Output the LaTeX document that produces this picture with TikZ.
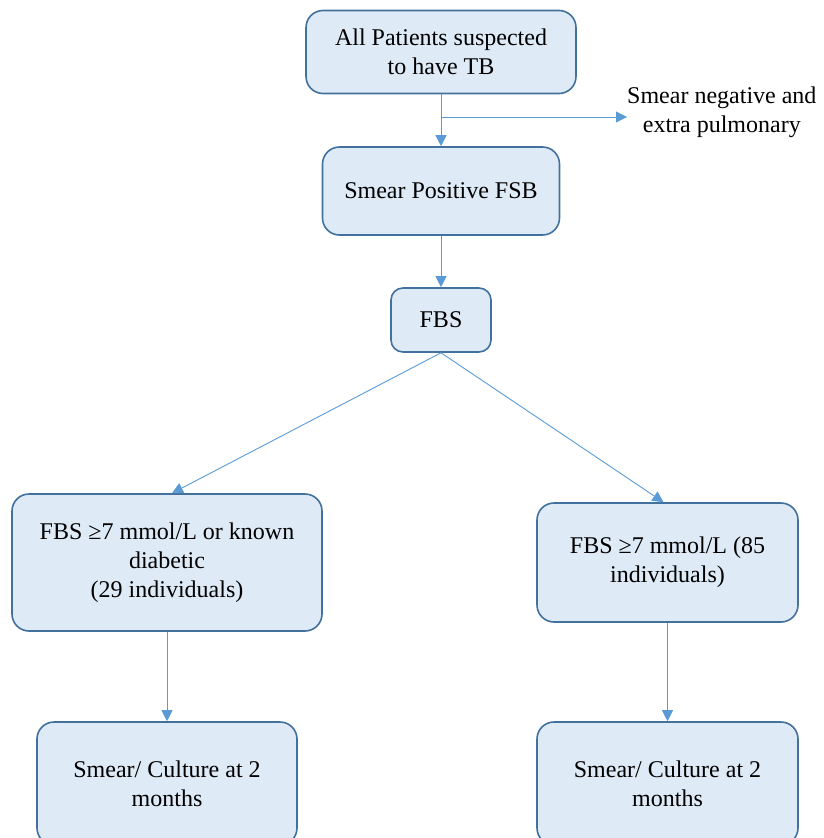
\documentclass[tikz,border=0pt]{standalone}
\usepackage{fontspec}
\setmainfont{Liberation Serif}
\usetikzlibrary{arrows.meta}
\definecolor{boxfill}{HTML}{DEEAF6}
\definecolor{boxline}{HTML}{41719C}
\definecolor{arrowline}{HTML}{5B9BD5}
\begin{document}
\begin{tikzpicture}[x=1pt,y=-1pt,
  flowbox/.style={draw=boxline, line width=1.6pt, fill=boxfill, rounded corners=17pt,
    align=center, inner sep=0pt, font=\fontsize{24}{29}\selectfont},
  plain/.style={align=center, inner sep=0pt, font=\fontsize{24}{29}\selectfont},
  link/.style={draw=arrowline, line width=0.9pt, -{Triangle[length=11pt,width=11pt]}}]
\useasboundingbox (0,0) rectangle (824,838);
\clip (0,0) rectangle (824,838);

% boxes
\node[flowbox, minimum width=270pt, minimum height=83pt] (all) at (441,52)
  {All Patients suspected\\to have TB};
\node[flowbox, minimum width=237pt, minimum height=88pt] (pos) at (441,191)
  {Smear Positive FSB};
\node[flowbox, minimum width=100pt, minimum height=64pt, rounded corners=12pt] (fbs) at (441,320)
  {FBS};
\node[flowbox, minimum width=310pt, minimum height=137pt] (left) at (167,562.5)
  {FBS ≥7 mmol/L or known\\diabetic\\(29 individuals)};
\node[flowbox, minimum width=261pt, minimum height=119pt] (right) at (667.5,562.5)
  {FBS ≥7 mmol/L (85\\individuals)};
\node[flowbox, minimum width=260pt, minimum height=123pt] (bl) at (167,783.5)
  {Smear/ Culture at 2\\months};
\node[flowbox, minimum width=261pt, minimum height=123pt] (br) at (667.5,783.5)
  {Smear/ Culture at 2\\months};

% side label
\node[plain, anchor=west] (neg) at (627,112) {Smear negative and\\extra pulmonary};

% connectors
\coordinate (split) at (441,117);
\draw[link] (all.south) -- (pos.north);
\draw[link] (split) -- (split -| neg.west);
\draw[link] (pos.south) -- (fbs.north);
\draw[link] (fbs.south) -- ([xshift=5pt]left.north);
\draw[link] (fbs.south) -- ([xshift=-4pt]right.north);
\draw[link] (left.south) -- (bl.north);
\draw[link] (right.south) -- (br.north);
\end{tikzpicture}
\end{document}
